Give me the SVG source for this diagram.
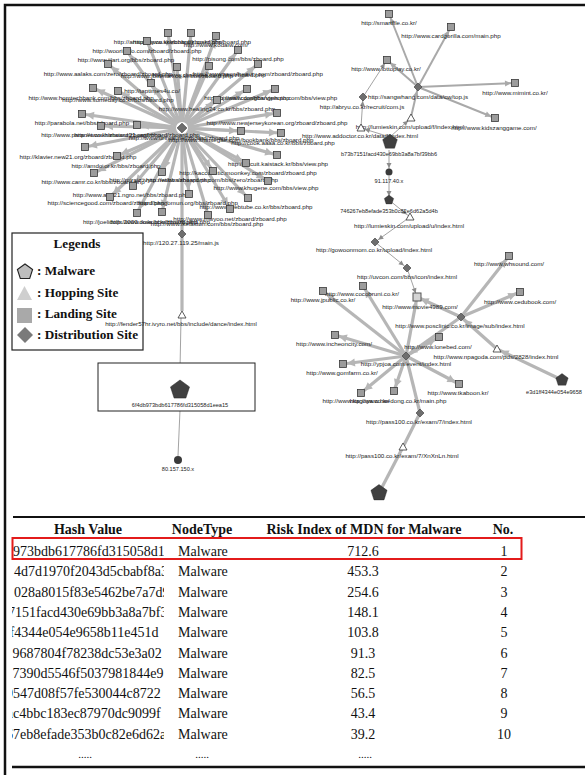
<svg xmlns="http://www.w3.org/2000/svg" xmlns:xlink="http://www.w3.org/1999/xlink" width="585" height="775" viewBox="0 0 585 775">
<style>
  .lb{font-family:"Liberation Sans",Arial,sans-serif;font-size:6.2px;fill:#222;text-anchor:middle}
  .hs{font-family:"Liberation Sans",Arial,sans-serif;font-size:5.6px;fill:#222;text-anchor:middle}
  .ray{stroke:#b6b6b6;stroke-width:3.2;fill:none}
  .ray2{stroke:#a9a9a9;stroke-width:2;fill:none}
  .thin{stroke:#8c8c8c;stroke-width:0.8;fill:none}
  .lg{font-family:"Liberation Serif","Times New Roman",serif;font-weight:bold;font-size:13.2px;fill:#111}
  .th{font-family:"Liberation Serif","Times New Roman",serif;font-weight:bold;font-size:14px;fill:#111;text-anchor:middle}
  .td{font-family:"Liberation Serif","Times New Roman",serif;font-size:14px;fill:#111}
  .tc{text-anchor:middle}
</style>
<defs>
  <rect id="sq" x="-3.5" y="-3.5" width="7" height="7" fill="#9c9c9c" stroke="#3a3a3a" stroke-width="0.8"/>
  <path id="dm" d="M0,-4 L4,0 L0,4 L-4,0 Z" fill="#6e6e6e" stroke="#3a3a3a" stroke-width="0.6"/>
  <path id="tr" d="M0,-4 L4,3 L-4,3 Z" fill="#fff" stroke="#333" stroke-width="0.8"/>
  <path id="pt" d="M0,-10 L9.51,-3.09 L5.88,8.09 L-5.88,8.09 L-9.51,-3.09 Z" fill="#404040" stroke="#222" stroke-width="0.5"/>
  <marker id="ah" viewBox="-13 -5 14 10" refX="0" refY="0" markerWidth="14" markerHeight="10" markerUnits="userSpaceOnUse" orient="auto">
    <path d="M-12,-4 L-4,0 L-12,4 Z" fill="#b6b6b6"/>
  </marker>
  <marker id="ah2" viewBox="-11 -4 12 8" refX="0" refY="0" markerWidth="12" markerHeight="8" markerUnits="userSpaceOnUse" orient="auto">
    <path d="M-10,-3 L-4,0 L-10,3 Z" fill="#a9a9a9"/>
  </marker>
  <marker id="at" viewBox="-10 -3 11 6" refX="0" refY="0" markerWidth="11" markerHeight="6" markerUnits="userSpaceOnUse" orient="auto">
    <path d="M-9,-2.5 L-4,0 L-9,2.5 Z" fill="#8c8c8c"/>
  </marker>
  <clipPath id="hashcol"><rect x="12" y="538" width="152" height="210"/></clipPath>
</defs>

<!-- frame -->
<path d="M5,775 L5,5 L585,5" fill="none" stroke="#111" stroke-width="2.5"/>

<!-- legend (drawn first so graph labels sit on top of it) -->
<g id="legend">
  <rect x="12" y="233" width="131" height="117" fill="#fff" stroke="#222" stroke-width="1.2"/>
  <text class="lg" x="77" y="248" text-anchor="middle">Legends</text>
  <path d="M25,264 L32.6,269.5 L29.7,278.5 L20.3,278.5 L17.4,269.5 Z" fill="#bdbdbd" stroke="#222" stroke-width="1.1"/>
  <text class="lg" x="37" y="275">: Malware</text>
  <path d="M24.5,286 L32,300 L17,300 Z" fill="#cfcfcf"/>
  <text class="lg" x="37" y="297">: Hopping Site</text>
  <rect x="17" y="308" width="15" height="15" fill="#a9a9a9"/>
  <text class="lg" x="37" y="318">: Landing Site</text>
  <path d="M25,327 L33,335 L25,343 L17,335 Z" fill="#7a7a7a"/>
  <text class="lg" x="37" y="339">: Distribution Site</text>
</g>

<!-- connectors -->
<g id="edges">
  <!-- star around the zboard distribution hub -->
  <g class="ray" marker-end="url(#ah)">
    <line x1="182" y1="128" x2="168" y2="33"/>
    <line x1="182" y1="128" x2="191" y2="33"/>
    <line x1="182" y1="128" x2="216" y2="36"/>
    <line x1="182" y1="128" x2="147" y2="41"/>
    <line x1="182" y1="128" x2="127" y2="51"/>
    <line x1="182" y1="128" x2="238" y2="50"/>
    <line x1="182" y1="128" x2="108" y2="64"/>
    <line x1="182" y1="128" x2="177" y2="67"/>
    <line x1="182" y1="128" x2="209" y2="66"/>
    <line x1="182" y1="128" x2="258" y2="64"/>
    <line x1="182" y1="128" x2="151" y2="83"/>
    <line x1="182" y1="128" x2="93" y2="88"/>
    <line x1="182" y1="128" x2="118" y2="91"/>
    <line x1="182" y1="128" x2="247" y2="89"/>
    <line x1="182" y1="128" x2="275" y2="89"/>
    <line x1="182" y1="128" x2="217" y2="100"/>
    <line x1="182" y1="128" x2="82" y2="114"/>
    <line x1="182" y1="128" x2="277" y2="113"/>
    <line x1="182" y1="128" x2="101" y2="126"/>
    <line x1="182" y1="128" x2="137" y2="125"/>
    <line x1="182" y1="128" x2="241" y2="131"/>
    <line x1="182" y1="128" x2="281" y2="133"/>
    <line x1="182" y1="128" x2="85" y2="147"/>
    <line x1="182" y1="128" x2="117" y2="156"/>
    <line x1="182" y1="128" x2="277" y2="155"/>
    <line x1="182" y1="128" x2="246" y2="163"/>
    <line x1="182" y1="128" x2="94" y2="173"/>
    <line x1="182" y1="128" x2="162" y2="172"/>
    <line x1="182" y1="128" x2="213" y2="171"/>
    <line x1="182" y1="128" x2="133" y2="186"/>
    <line x1="182" y1="128" x2="268" y2="181"/>
    <line x1="182" y1="128" x2="189" y2="194"/>
    <line x1="182" y1="128" x2="110" y2="197"/>
    <line x1="182" y1="128" x2="248" y2="198"/>
    <line x1="182" y1="128" x2="137" y2="213"/>
    <line x1="182" y1="128" x2="162" y2="212"/>
    <line x1="182" y1="128" x2="230" y2="209"/>
    <line x1="182" y1="128" x2="208" y2="215"/>
  </g>
  <line class="ray" x1="182" y1="128" x2="182" y2="234"/>
  <line class="ray" x1="182" y1="234" x2="182" y2="311"/>
  <line class="thin" x1="181" y1="318" x2="180" y2="370"/>
  <line class="thin" x1="180" y1="410" x2="178" y2="456"/>

  <!-- sangwhang hub -->
  <g class="ray2" marker-end="url(#ah2)">
    <line x1="418" y1="87" x2="389" y2="14"/>
    <line x1="418" y1="87" x2="451" y2="27"/>
    <line x1="418" y1="87" x2="387" y2="60"/>
    <line x1="418" y1="87" x2="515" y2="83"/>
    <line x1="418" y1="87" x2="495" y2="118"/>
    <line x1="411" y1="117" x2="418" y2="87"/>
  </g>
  <g class="thin" marker-end="url(#at)">
    <line x1="363" y1="97" x2="387" y2="60"/>
    <line x1="361" y1="127" x2="363" y2="97"/>
    <line x1="390" y1="137" x2="361" y2="128"/>
    <line x1="390" y1="137" x2="411" y2="118"/>
    <line x1="389" y1="150" x2="389" y2="172"/>
    <line x1="389" y1="176" x2="389" y2="200"/>
    <line x1="389" y1="200" x2="410" y2="217"/>
    <line x1="410" y1="217" x2="375" y2="242"/>
    <line x1="375" y1="242" x2="407" y2="268"/>
    <line x1="407" y1="268" x2="417" y2="297"/>
  </g>

  <!-- posclinic / ypjoa hubs -->
  <g class="ray" marker-end="url(#ah)">
    <line x1="461" y1="317" x2="509" y2="256"/>
    <line x1="461" y1="317" x2="520" y2="292"/>
    <line x1="461" y1="317" x2="417" y2="297"/>
    <line x1="461" y1="317" x2="406" y2="356"/>
    <line x1="497" y1="349" x2="461" y2="317"/>
    <line x1="562" y1="380" x2="497" y2="349"/>
    <line x1="406" y1="356" x2="323" y2="291"/>
    <line x1="406" y1="356" x2="363" y2="286"/>
    <line x1="406" y1="356" x2="417" y2="297"/>
    <line x1="406" y1="356" x2="439" y2="337"/>
    <line x1="406" y1="356" x2="335" y2="335"/>
    <line x1="406" y1="356" x2="343" y2="364"/>
    <line x1="406" y1="356" x2="361" y2="393"/>
    <line x1="406" y1="356" x2="394" y2="391"/>
    <line x1="406" y1="356" x2="459" y2="384"/>
  </g>
  <line class="ray" x1="406" y1="356" x2="420" y2="413"/>
  <line class="ray" x1="403" y1="447" x2="420" y2="413"/>
  <line class="ray" x1="379" y1="493" x2="403" y2="447"/>
</g>

<!-- zboard hub cluster -->
<g id="hub-zboard"><circle cx="182" cy="128" r="6" fill="#fff"/><use href="#dm" transform="translate(182,128) scale(1.2)"/><text class="lb" x="184" y="140">http://www.urimal.net/zboard/zboard.php</text></g>
<g id="ls-1"><use href="#sq" x="168" y="33"/><text class="lb" x="168" y="44">http://artsupply.co.kr/zboard/zboard.php</text></g>
<g id="ls-2"><use href="#sq" x="191" y="33"/><text class="lb" x="192" y="44">http://www.sketchbook.co.kr/bbs/board.php</text></g>
<g id="ls-3"><use href="#sq" x="216" y="36"/><text class="lb" x="216" y="47">http://www.kodaiw.com/</text></g>
<g id="ls-4"><use href="#sq" x="147" y="41"/><text class="lb" x="147" y="53">http://woorimdo.com/zboard/zboard.php</text></g>
<g id="ls-5"><use href="#sq" x="127" y="51"/><text class="lb" x="126" y="62">http://www.jilart.org/bbs/zboard.php</text></g>
<g id="ls-6"><use href="#sq" x="238" y="50"/><text class="lb" x="238" y="61">http://pisong.com/bbs/zboard.php</text></g>
<g id="ls-7"><use href="#sq" x="108" y="64"/><text class="lb" x="108" y="76">http://www.aalaks.com/zero/zboard/zboard.php</text></g>
<g id="ls-8"><use href="#sq" x="177" y="67"/><text class="lb" x="177" y="78">http://www.joinmart.co.kr/bbs/zboard.php</text></g>
<g id="ls-9"><use href="#sq" x="209" y="66"/><text class="lb" x="209" y="77">http://www.cbskorea.com/bbs/zboard.php</text></g>
<g id="ls-10"><use href="#sq" x="258" y="64"/><text class="lb" x="258" y="76">http://www.seoulbeauty.com/zboard/zboard.php</text></g>
<g id="ls-11"><use href="#sq" x="151" y="83"/><text class="lb" x="152" y="93">http://taptimes4u.co/</text></g>
<g id="ls-12"><use href="#sq" x="93" y="88"/><text class="lb" x="91" y="100">http://www.homtechbank.com/bbs/zboard.php</text></g>
<g id="ls-13"><use href="#sq" x="118" y="91"/><text class="lb" x="118" y="102">http://www.someday.co.kr/bbs/board.php</text></g>
<g id="ls-14"><use href="#sq" x="247" y="89"/><text class="lb" x="247" y="100">http://ujsmall.com/bbs/view.php</text></g>
<g id="ls-15"><use href="#sq" x="275" y="89"/><text class="lb" x="275" y="100">http://www.dongbangphoto.com/bbs/view.php</text></g>
<g id="ls-16"><use href="#sq" x="217" y="100"/><text class="lb" x="217" y="111">http://www.healing24.co.kr/bbs/zboard.php</text></g>
<g id="ls-17"><use href="#sq" x="82" y="114"/><text class="lb" x="82" y="125">http://parabola.net/bbs/zboard.php</text></g>
<g id="ls-18"><use href="#sq" x="277" y="113"/><text class="lb" x="277" y="125">http://www.newjerseykorean.org/zboard/zboard.php</text></g>
<g id="ls-19"><use href="#sq" x="101" y="126"/><text class="lb" x="101" y="137">http://www.paranet.co.kr/zboard/zboard.php</text></g>
<g id="ls-20"><use href="#sq" x="137" y="125"/><text class="lb" x="137" y="137">http://www.hanatour21.org/zboard/zboard.php</text></g>
<g id="ls-21"><use href="#sq" x="241" y="131"/><text class="lb" x="241" y="142">http://www.shinsegae.com/bookbank/bbs/zboard.php</text></g>
<g id="ls-22"><use href="#sq" x="281" y="133"/><text class="lb" x="283" y="145">http://cook.aaaa.co.kr/bbs/zboard.php</text></g>
<g id="ls-23"><use href="#sq" x="85" y="147"/><text class="lb" x="78" y="159">http://klavier.new21.org/zboard/zboard.php</text></g>
<g id="ls-24"><use href="#sq" x="117" y="156"/><text class="lb" x="116" y="168">http://amdo.or.kr/bbs/zboard.php</text></g>
<g id="ls-25"><use href="#sq" x="277" y="155"/><text class="lb" x="278" y="166">http://circuit.kaistack.kr/bbs/view.php</text></g>
<g id="ls-26"><use href="#sq" x="246" y="163"/><text class="lb" x="248" y="175">http://kaccoustic.moonkey.com/zboard/zboard.php</text></g>
<g id="ls-27"><use href="#sq" x="94" y="173"/><text class="lb" x="93" y="184">http://www.camr.co.kr/bbs/zboard.php</text></g>
<g id="ls-28"><use href="#sq" x="162" y="172"/><text class="lb" x="160" y="182">http://miraiz.ivyro.net/bbs/zboard.php</text></g>
<g id="ls-29"><use href="#sq" x="213" y="171"/><text class="lb" x="212" y="182">http://www.sahasports.com/bbs/zero/zboard.php</text></g>
<g id="ls-30"><use href="#sq" x="133" y="186"/><text class="lb" x="131" y="197">http://www.aoo21.ngro.net/bbs/zboard.php</text></g>
<g id="ls-31"><use href="#sq" x="268" y="181"/><text class="lb" x="266" y="190">http://www.khugene.com/bbs/view.php</text></g>
<g id="ls-32"><use href="#sq" x="189" y="194"/><text class="lb" x="188" y="205">http://bangomun.org/bbs/zboard.php</text></g>
<g id="ls-33"><use href="#sq" x="110" y="197"/><text class="lb" x="106" y="205">http://sciencegood.com/zboard/zboard.php</text></g>
<g id="ls-34"><use href="#sq" x="248" y="198"/><text class="lb" x="256" y="209">http://www.webtube.co.kr/bbs/zboard.php</text></g>
<g id="ls-35"><use href="#sq" x="137" y="213"/><text class="lb" x="140" y="224">http://joelidolls.2000.co.kr/bbs/zboard.php</text></g>
<g id="ls-36"><use href="#sq" x="162" y="212"/><text class="lb" x="160" y="224">http://www.ikaa.or.kr/bbs/zboard.php</text></g>
<g id="ls-37"><use href="#sq" x="230" y="209"/><text class="lb" x="230" y="221">http://www.mwyoo.net/zboard/zboard.php</text></g>
<g id="ls-38"><use href="#sq" x="208" y="215"/><text class="lb" x="207" y="226">http://www.ikelaston.com/bbs/zboard.php</text></g>
<g id="ds-mainjs"><use href="#dm" x="182" y="234"/><text class="lb" x="181" y="245">http://120.27.119.25/main.js</text></g>
<g id="hs-fender"><use href="#tr" x="182" y="315"/><text class="lb" x="181" y="326">http://fender57hr.ivyro.net/bbs/include/dance/index.html</text></g>
<g id="mw-6f4db"><rect x="98" y="363" width="157" height="48" fill="#fff" stroke="#222" stroke-width="1"/><use href="#pt" transform="translate(180,390)"/><text class="hs" x="180" y="407">6f4db973bdb617786fd315058d1eea15</text></g>
<g id="ip-80"><circle cx="178" cy="460" r="4" fill="#3a3a3a"/><text class="hs" x="178" y="471">80.157.150.x</text></g>

<!-- sangwhang cluster -->
<g id="ls-smartfile"><use href="#sq" x="389" y="14"/><text class="lb" x="389" y="25">http://smartfile.co.kr/</text></g>
<g id="ls-cardgorilla"><use href="#sq" x="451" y="27"/><text class="lb" x="451" y="38">http://www.cardgorilla.com/main.php</text></g>
<g id="ls-lottoplay"><use href="#sq" x="387" y="60"/><text class="lb" x="386" y="71">http://www.lottoplay.co.kr/</text></g>
<g id="ls-mimint"><use href="#sq" x="515" y="83"/><text class="lb" x="515" y="95">http://www.mimint.co.kr/</text></g>
<g id="ls-kidszanggame"><use href="#sq" x="495" y="118"/><text class="lb" x="494" y="130">http://www.kidszanggame.com/</text></g>
<g id="ds-sangwhang"><use href="#dm" x="418" y="87"/><text class="lb" x="418" y="99">http://sangwhang.com/data/cw/top.js</text></g>
<g id="ds-abryu"><use href="#dm" x="363" y="97"/><text class="lb" x="362" y="109">http://abryu.co.kr/recruit/com.js</text></g>
<g id="hs-lumieskin-f"><use href="#tr" x="411" y="118"/><text class="lb" x="410" y="129">http://lumieskin.com/upload/f/index.html</text></g>
<g id="hs-addoctor"><use href="#tr" x="361" y="128"/><text class="lb" x="360" y="138">http://www.addoctor.co.kr/data/f/index.html</text></g>
<g id="mw-b73b"><use href="#pt" transform="translate(390,142) scale(0.77)"/><text class="hs" x="389" y="156">b73b7151facd430e69bb3a8a7bf39bb6</text></g>
<g id="ip-91"><circle cx="389" cy="172" r="3.5" fill="#3a3a3a"/><text class="hs" x="389" y="183">91.117.40.x</text></g>
<g id="mw-7462"><use href="#pt" transform="translate(389,200) scale(0.5)"/><text class="hs" x="389" y="213">746267eb8efade353b0c82e6d62a5d4b</text></g>
<g id="hs-lumieskin-u"><use href="#tr" x="410" y="217"/><text class="lb" x="409" y="228">http://lumieskin.com/upload/u/index.html</text></g>
<g id="ds-gowoonmom"><use href="#dm" x="375" y="242"/><text class="lb" x="374" y="252">http://gowoonmom.co.kr/upload/index.html</text></g>
<g id="ds-uvcon"><use href="#dm" x="407" y="268"/><text class="lb" x="407" y="279">http://uvcon.com/bbs/icon/index.html</text></g>

<!-- posclinic / ypjoa cluster -->
<g id="ls-whsound"><use href="#sq" x="509" y="256"/><text class="lb" x="509" y="266">http://www.whsound.com/</text></g>
<g id="ls-cedubook"><use href="#sq" x="520" y="292"/><text class="lb" x="520" y="304">http://www.cedubook.com/</text></g>
<g id="ls-movie"><rect x="413" y="293" width="8" height="8" fill="#d4d4d4" stroke="#555" stroke-width="1"/><text class="lb" x="420" y="309">http://www.movie4989.com/</text></g>
<g id="ls-cocobruni"><use href="#sq" x="363" y="286"/><text class="lb" x="362" y="296">http://www.cocobruni.co.kr/</text></g>
<g id="ls-jpublic"><use href="#sq" x="323" y="291"/><text class="lb" x="323" y="302">http://www.jpublic.co.kr/</text></g>
<g id="ds-posclinic"><use href="#dm" x="461" y="317"/><text class="lb" x="460" y="328">http://www.posclinic.co.kr/image/sub/index.html</text></g>
<g id="ds-ypjoa"><use href="#dm" x="406" y="356"/><text class="lb" x="406" y="366">http://ypjoa.com/event/index.html</text></g>
<g id="ls-lonebed"><use href="#sq" x="439" y="337"/><text class="lb" x="438" y="349">http://www.lonebed.com/</text></g>
<g id="ls-incheoncity"><use href="#sq" x="335" y="335"/><text class="lb" x="334" y="346">http://www.incheoncity.com/</text></g>
<g id="ls-gomfarm"><use href="#sq" x="343" y="364"/><text class="lb" x="342" y="375">http://www.gomfarm.co.kr/</text></g>
<g id="ls-tkaboon"><use href="#sq" x="459" y="384"/><text class="lb" x="458" y="395">http://www.tkaboon.kr/</text></g>
<g id="ls-kagoya"><use href="#sq" x="361" y="393"/><text class="lb" x="356" y="403">http://www.kagoya.co.kr/</text></g>
<g id="ls-haedong"><use href="#sq" x="394" y="391"/><text class="lb" x="398" y="403">http://www.haedong.co.kr/main.php</text></g>
<g id="hs-npagoda"><use href="#tr" x="497" y="349"/><text class="lb" x="496" y="359">http://www.npagoda.com/pds/2828/index.html</text></g>
<g id="mw-e3d1"><use href="#pt" transform="translate(562,380) scale(0.65)"/><text class="hs" x="554" y="394">e3d1ff4344e054e9658</text></g>
<g id="ds-pass100"><use href="#dm" x="420" y="413"/><text class="lb" x="419" y="424">http://pass100.co.kr/exam/7/index.html</text></g>
<g id="hs-pass100"><use href="#tr" x="403" y="447"/><text class="lb" x="402" y="458">http://pass100.co.kr/exam/7/XnXnLn.html</text></g>
<g id="mw-pass100"><use href="#pt" transform="translate(379,493) scale(0.85)"/></g>

<!-- ranking table -->
<g id="table">
  <line x1="13" y1="517" x2="585" y2="517" stroke="#111" stroke-width="2"/>
  <text class="th" x="88" y="534">Hash Value</text>
  <text class="th" x="202" y="534">NodeType</text>
  <text class="th" x="364" y="534">Risk Index of MDN for Malware</text>
  <text class="th" x="503" y="534">No.</text>
  <g clip-path="url(#hashcol)" class="td">
    <text x="13" y="556">973bdb617786fd315058d1eea15</text>
    <text x="14" y="576.3">4d7d1970f2043d5cbabf8a3e</text>
    <text x="14" y="596.6">028a8015f83e5462be7a7d9</text>
    <text x="-20" y="616.9">b73b7151facd430e69bb3a8a7bf39bb6</text>
    <text x="-22" y="637.2">e3d1ff4344e054e9658b11e451d</text>
    <text x="12.5" y="657.5">9687804f78238dc53e3a02</text>
    <text x="12.5" y="677.8">7390d5546f5037981844e9</text>
    <text x="6" y="698.1">0547d08f57fe530044c8722</text>
    <text x="6.8" y="718.4">ac4bbc183ec87970dc9099f</text>
    <text x="6" y="738.7">67eb8efade353b0c82e6d62a5d4b</text>
  </g>
  <g class="td">
    <text x="178" y="556">Malware</text>
    <text x="178" y="576.3">Malware</text>
    <text x="178" y="596.6">Malware</text>
    <text x="178" y="616.9">Malware</text>
    <text x="178" y="637.2">Malware</text>
    <text x="178" y="657.5">Malware</text>
    <text x="178" y="677.8">Malware</text>
    <text x="178" y="698.1">Malware</text>
    <text x="178" y="718.4">Malware</text>
    <text x="178" y="738.7">Malware</text>
  </g>
  <g class="td tc">
    <text x="363" y="556">712.6</text>
    <text x="363" y="576.3">453.3</text>
    <text x="363" y="596.6">254.6</text>
    <text x="363" y="616.9">148.1</text>
    <text x="363" y="637.2">103.8</text>
    <text x="363" y="657.5">91.3</text>
    <text x="363" y="677.8">82.5</text>
    <text x="363" y="698.1">56.5</text>
    <text x="363" y="718.4">43.4</text>
    <text x="363" y="738.7">39.2</text>
    <text x="504" y="556">1</text>
    <text x="504" y="576.3">2</text>
    <text x="504" y="596.6">3</text>
    <text x="504" y="616.9">4</text>
    <text x="504" y="637.2">5</text>
    <text x="504" y="657.5">6</text>
    <text x="504" y="677.8">7</text>
    <text x="504" y="698.1">8</text>
    <text x="504" y="718.4">9</text>
    <text x="504" y="738.7">10</text>
    <text x="85" y="758" font-size="11">.....</text>
    <text x="202" y="758" font-size="11">.....</text>
    <text x="365" y="758" font-size="11">.....</text>
  </g>
  <rect x="12.5" y="538" width="509" height="21" fill="none" stroke="#e31b1b" stroke-width="2"/>
  <line x1="12" y1="767" x2="585" y2="767" stroke="#111" stroke-width="2.5"/>
</g>
</svg>
